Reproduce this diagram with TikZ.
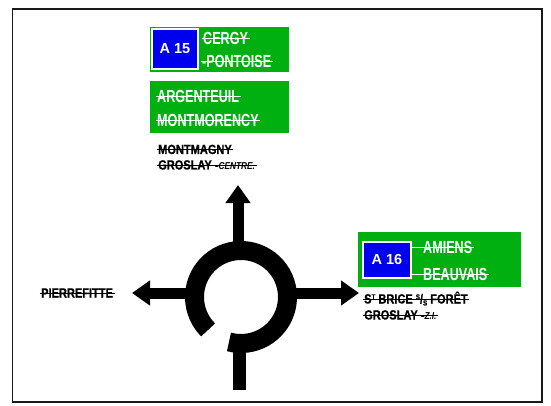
\documentclass[tikz,border=0pt]{standalone}
\usepackage{fontspec}
\newfontfamily\gfontfam[FakeStretch=0.72]{Liberation Sans}
\newfontfamily\bfontfam[FakeStretch=0.83,BoldFeatures={FakeBold=0.6}]{Liberation Sans}
\newfontfamily\afontfam{Liberation Sans}
\newcommand\signG{\gfontfam\bfseries\fontsize{17.5}{17.5}\selectfont}
\newcommand\signB{\bfontfam\bfseries\fontsize{13.3}{13.3}\selectfont}
\newcommand\signBs{\bfontfam\bfseries\itshape\fontsize{10}{10}\selectfont}
\newcommand\signA{\afontfam\bfseries\fontsize{14.5}{14.5}\selectfont}
\usetikzlibrary{arrows.meta}
\definecolor{signgreen}{RGB}{0,176,16}
\definecolor{signblue}{RGB}{0,0,240}
\tikzset{
  greenbox/.style={fill=signgreen, draw=none, inner sep=0pt, anchor=north west},
  bluebox/.style={fill=signblue, draw=white, line width=1.3pt, inner sep=0pt, text=white, font=\signA},
  gtxt/.style={inner sep=0pt, anchor=base west, text=white, font=\signG,
    strike={white}{6pt}},
  btxt/.style={inner sep=0pt, anchor=base west, text=black, font=\signB,
    strike={black}{4.6pt}},
  strike/.style 2 args={append after command={
    ([shift={(-1.5pt,#2)}]\tikzlastnode.base west) edge[draw=#1, line width=0.7pt]
    ([shift={(1.5pt,#2)}]\tikzlastnode.base east)}},
  arr/.style={line width=11pt, draw=black, -{Triangle[width=24pt,length=18pt]}},
  ring/.style={line width=19pt, draw=black},
  frame/.style={draw=black!90, line width=1.8pt}
}
\begin{document}
\begin{tikzpicture}[x=1pt,y=-1pt]
\useasboundingbox (0,0) rectangle (551,406);
\draw[frame] (12.5,9) rectangle (542,402);

% A15 sign
\node[greenbox, minimum width=139pt, minimum height=45pt] (g15) at (150,27) {};
\node[bluebox, minimum width=46pt, minimum height=40pt] (a15) at (175,49) {A 15};
\node[gtxt] (cergy) at (203,44.5) {CERGY};
\node[gtxt] (pontoise) at (202,67.5) {-PONTOISE};

% Argenteuil sign
\node[greenbox, minimum width=139pt, minimum height=52pt] (g2) at (150,81) {};
\node[gtxt] (argenteuil) at (157,102.5) {ARGENTEUIL};
\node[gtxt] (montmorency) at (157,126.5) {MONTMORENCY};

% black texts top
\node[btxt] (montmagny) at (158,154) {MONTMAGNY};
\node[btxt] (groslayc) at (158,169.5) {GROSLAY -{\signBs CENTRE.}};

% A16 sign
\node[greenbox, minimum width=163pt, minimum height=55pt] (g16) at (358,232) {};
\node[bluebox, minimum width=48pt, minimum height=36pt] (a16) at (387,260) {A 16};
\node[gtxt] (amiens) at (411,253.5) {\hspace*{12pt}AMIENS};
\node[gtxt] (beauvais) at (411,280.5) {\hspace*{12pt}BEAUVAIS};

% black texts right
\node[btxt] (brice) at (364,303.5) {S\raisebox{4pt}{\fontsize{7.5}{7.5}\selectfont T} BRICE \raisebox{4pt}{\fontsize{7.5}{7.5}\selectfont S}/\raisebox{-2pt}{\fontsize{7.5}{7.5}\selectfont S} FORÊT};
\node[btxt] (groslayz) at (364,319.5) {GROSLAY -{\signBs Z.I.}};

% left text
\node[btxt] (pierrefitte) at (41,297.5) {PIERREFITTE};

% roundabout
\coordinate (rc) at (241,297);
\coordinate (sTop) at (238,255);
\coordinate (tTop) at (238,185);
\coordinate (sL) at (196,293);
\coordinate (tL) at (132,293);
\coordinate (sR) at (287,293);
\coordinate (tR) at (359,293);
\coordinate (bIn) at (239,342);
\coordinate (bOut) at (239,390);

\draw[arr] (sTop) -- (tTop);
\draw[arr] (sL) -- (tL);
\draw[arr] (sR) -- (tR);
\draw[ring] (rc) ++(255:46.5pt) arc[start angle=255, end angle=585, radius=46.5pt];
\draw[line width=13pt, draw=black] (bOut) -- (bIn);
\end{tikzpicture}
\end{document}
